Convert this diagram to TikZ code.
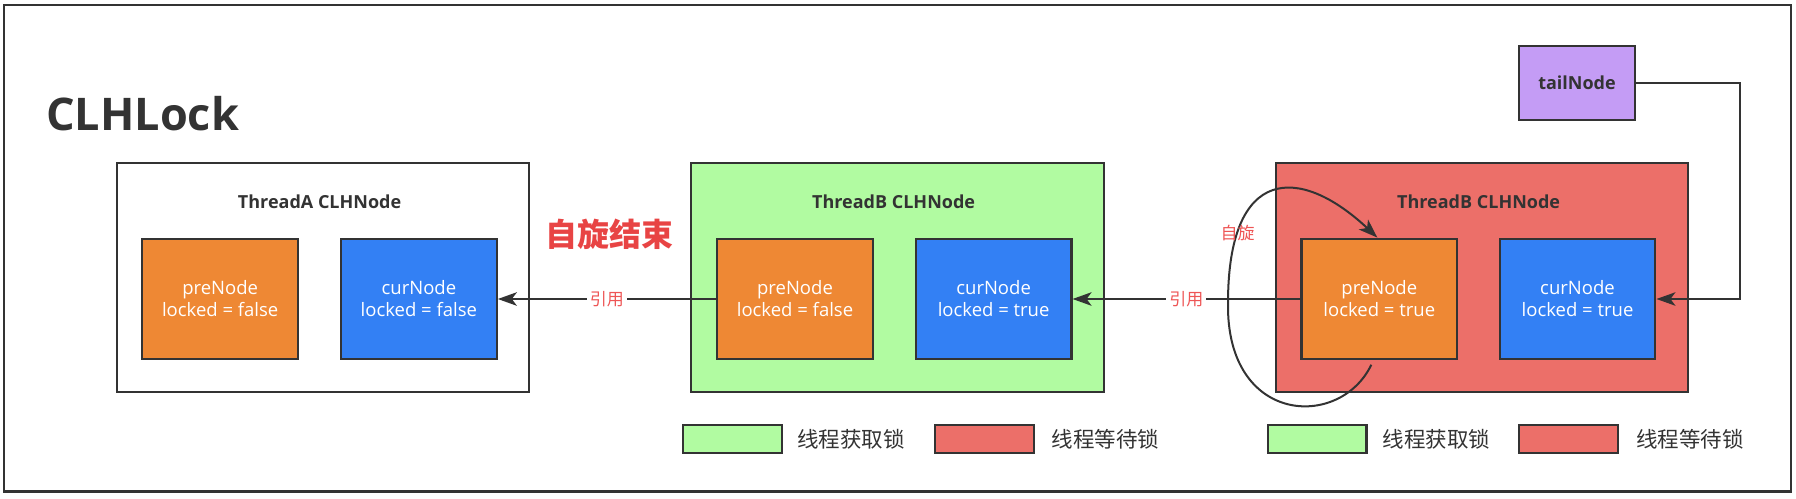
\documentclass[tikz,border=0pt]{standalone}
\usepackage{fontspec}
\setmainfont{Open Sans}
\newfontfamily\cjk{Noto Sans CJK SC}
\usetikzlibrary{arrows.meta,calc}
\definecolor{lineC}{HTML}{333333}
\definecolor{txtC}{HTML}{333333}
\definecolor{orangeC}{HTML}{EE8834}
\definecolor{blueC}{HTML}{3380F4}
\definecolor{greenC}{HTML}{B1FBA1}
\definecolor{redC}{HTML}{EC6F69}
\definecolor{purpleC}{HTML}{C49CF5}
\definecolor{redT}{HTML}{E84444}
\definecolor{redL}{HTML}{EE5555}
\begin{document}
\begin{tikzpicture}[x=1pt,y=-1pt,
  field/.style={draw=lineC, line width=2.2pt, inner sep=0pt, minimum width=155.7pt, minimum height=120.7pt, align=center, text=white, font=\fontsize{18.5}{22}\selectfont},
  prebox/.style={field, fill=orangeC},
  curbox/.style={field, fill=blueC},
  thread/.style={draw=lineC, line width=2.2pt, inner sep=0pt, minimum width=412.6pt, minimum height=229pt},
  title/.style={inner sep=0pt, text=txtC, font=\bfseries\fontsize{18}{22}\selectfont},
  legbox/.style={draw=lineC, line width=2.2pt, inner sep=0pt, minimum width=98.8pt, minimum height=28.3pt},
  legtxt/.style={anchor=base west, inner sep=0pt, text=txtC, font=\cjk\fontsize{21.5}{24}\selectfont},
  conn/.style={draw=lineC, line width=2pt},
  tip/.style={-{Stealth[length=19pt,width=13.5pt,inset=5pt]}},
  lab/.style={fill=white, inner sep=3pt, text=redL, font=\cjk\fontsize{17}{20}\selectfont}
]
\useasboundingbox (0,0) rectangle (1796,498);
% outer frame
\draw[draw=lineC, line width=2.5pt] (4,5) rectangle (1791,491.5);
% title
\node[anchor=base west, inner sep=0pt, text=txtC, font=\bfseries\fontsize{45}{50}\selectfont] (clh) at (46,130) {CLHLock};
% thread boxes
\node[thread, fill=white] (thA) at (323,277.2) {};
\node[thread, fill=greenC] (thB) at (897.5,277.2) {};
\node[thread, fill=redC] (thC) at (1481.9,277.2) {};
\node[title] (tA) at (319.6,201.7) {ThreadA CLHNode};
\node[title] (tB) at (893.6,201.7) {ThreadB CLHNode};
\node[title] (tC) at (1478.6,201.7) {ThreadB CLHNode};
% fields
\node[prebox] (preA) at (220.2,299) {preNode\\locked = false};
\node[curbox] (curA) at (418.9,299) {curNode\\locked = false};
\node[prebox] (preB) at (795,299) {preNode\\locked = false};
\node[curbox] (curB) at (993.6,299) {curNode\\locked = true};
\node[prebox] (preC) at (1379.3,299) {preNode\\locked = true};
\node[curbox] (curC) at (1577.5,299) {curNode\\locked = true};
% tail node
\node[draw=lineC, line width=2.2pt, fill=purpleC, minimum width=116.7pt, minimum height=74.3pt, inner sep=0pt, text=txtC, font=\bfseries\fontsize{18}{22}\selectfont] (tail) at (1577,83) {tailNode};
% spin end label
\node[anchor=base, inner sep=0pt, text=redT, font=\cjk\bfseries\fontsize{32}{36}\selectfont] (spinend) at (609,246) {自旋结束};
% references
\draw[conn, tip] (preB.west) -- node[lab] (ref1) {引用} (curA.east);
\draw[conn, tip] (preC.west) -- node[lab] (ref2) {引用} (curB.east);
% tail connector
\coordinate (tc) at (1740,299);
\draw[conn, tip] (tail.east) -| (tc) -- (curC.east);
% spin loop
\coordinate (sl) at (1228,303);
\draw[conn, tip] ($(preC.south)+(-8,4.3)$) .. controls (1340,430) and (1226,425) .. (sl)
  .. controls (1228,165) and (1300,165) .. ($(preC.north)+(-2,0)$);
\node[inner sep=0pt, text=redL, font=\cjk\fontsize{17}{20}\selectfont] (spin) at (1237.5,233.3) {自旋};
% legends
\node[legbox, fill=greenC] (lg1) at (732.4,439.2) {};
\node[legtxt] (lt1) at (797,447.5) {线程获取锁};
\node[legbox, fill=redC] (lr1) at (984.3,439.2) {};
\node[legtxt] (lt2) at (1051.6,447.5) {线程等待锁};
\node[legbox, fill=greenC] (lg2) at (1317,439.2) {};
\node[legtxt] (lt3) at (1382.4,447.5) {线程获取锁};
\node[legbox, fill=redC] (lr2) at (1568.2,439.2) {};
\node[legtxt] (lt4) at (1636,447.5) {线程等待锁};
\end{tikzpicture}
\end{document}
